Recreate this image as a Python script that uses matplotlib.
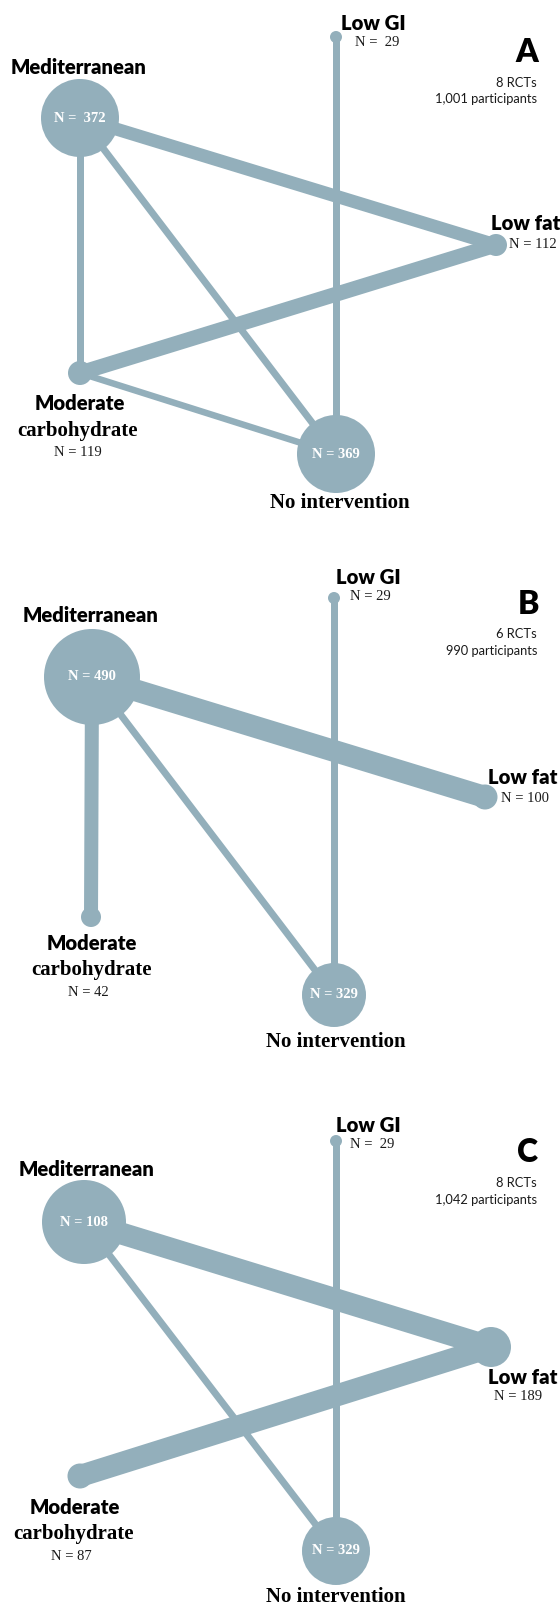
import matplotlib
matplotlib.use("Agg")
import matplotlib.pyplot as plt
from matplotlib.patches import Circle

# ---------------- data ----------------
panels = ["A", "B", "C"]
rcts = [8, 6, 8]
participants = ["1,001", "990", "1,042"]

nodes = ["Mediterranean", "Low GI", "Low fat", "Moderate carbohydrate", "No intervention"]

n_labels_A = ["N =  372", "N =  29", "N = 112", "N = 119", "N = 369"]
n_labels_B = ["N = 490", "N = 29", "N = 100", "N = 42", "N = 329"]
n_labels_C = ["N = 108", "N =  29", "N = 189", "N = 87", "N = 329"]

edges_A = [("Mediterranean", "Low fat"), ("Low fat", "Moderate carbohydrate"),
           ("Mediterranean", "Moderate carbohydrate"), ("Mediterranean", "No intervention"),
           ("Moderate carbohydrate", "No intervention"), ("Low GI", "No intervention")]
edges_B = [("Mediterranean", "Low fat"), ("Mediterranean", "Moderate carbohydrate"),
           ("Mediterranean", "No intervention"), ("Low GI", "No intervention")]
edges_C = [("Mediterranean", "Low fat"), ("Low fat", "Moderate carbohydrate"),
           ("Mediterranean", "No intervention"), ("Low GI", "No intervention")]

# ---------------- layout (pixel units, y downward) ----------------
W, H = 560, 1605
COLOR = "#93AFBB"

layout = {
    "A": dict(
        pos={"Mediterranean": (80, 118), "Low GI": (336, 37), "Low fat": (496, 245),
             "Moderate carbohydrate": (80, 373), "No intervention": (336, 454)},
        rad={"Mediterranean": 39, "Low GI": 6, "Low fat": 11,
             "Moderate carbohydrate": 12, "No intervention": 39},
        ew=[13, 15, 7, 7, 6.5, 7],
        letter=(527, 53), info_y=(83, 99),
        lab={"Mediterranean": (79, 67), "Low GI": (373, 24), "Low fat": (526, 223),
             "Moderate": (80, 404), "carbohydrate": (78, 431), "No intervention": (340, 503)},
        nlab={"Low GI": (377, 43), "Low fat": (533, 245), "Moderate carbohydrate": (78, 453)},
    ),
    "B": dict(
        pos={"Mediterranean": (92, 677), "Low GI": (334, 598), "Low fat": (485, 797),
             "Moderate carbohydrate": (91, 917), "No intervention": (334, 995)},
        rad={"Mediterranean": 48, "Low GI": 6, "Low fat": 12.5,
             "Moderate carbohydrate": 10, "No intervention": 32},
        ew=[22, 14, 7, 7],
        letter=(528, 604), info_y=(634, 651),
        lab={"Mediterranean": (91, 616), "Low GI": (368, 577), "Low fat": (523, 777),
             "Moderate": (92, 943), "carbohydrate": (91, 970), "No intervention": (336, 1042)},
        nlab={"Low GI": (370, 597), "Low fat": (525, 798), "Moderate carbohydrate": (88, 992)},
    ),
    "C": dict(
        pos={"Mediterranean": (84, 1222), "Low GI": (336, 1141), "Low fat": (491, 1347),
             "Moderate carbohydrate": (80, 1476), "No intervention": (336, 1551)},
        rad={"Mediterranean": 42, "Low GI": 6, "Low fat": 20,
             "Moderate carbohydrate": 12.5, "No intervention": 34},
        ew=[22, 22, 7, 7],
        letter=(528, 1153), info_y=(1183, 1200),
        lab={"Mediterranean": (87, 1169), "Low GI": (368, 1125), "Low fat": (523, 1377),
             "Moderate": (75, 1507), "carbohydrate": (73, 1534), "No intervention": (336, 1597)},
        nlab={"Low GI": (372, 1145), "Low fat": (518, 1397), "Moderate carbohydrate": (71, 1556)},
    ),
}

n_labels = {"A": n_labels_A, "B": n_labels_B, "C": n_labels_C}
edges = {"A": edges_A, "B": edges_B, "C": edges_C}

PX = 72 / 100.0  # points per pixel at dpi 100
SANS = "Lato"
SERIF = "Liberation Serif"

fig = plt.figure(figsize=(W / 100, H / 100), dpi=100)
ax = fig.add_axes([0, 0, 1, 1])
ax.set_xlim(0, W)
ax.set_ylim(H, 0)
ax.axis("off")

for i, p in enumerate(panels):
    L = layout[p]
    pos = L["pos"]
    # edges
    for (a, b), w in zip(edges[p], L["ew"]):
        xa, ya = pos[a]
        xb, yb = pos[b]
        ax.plot([xa, xb], [ya, yb], color=COLOR, lw=w * PX,
                solid_capstyle="butt", zorder=1)
    # nodes
    for j, nd in enumerate(nodes):
        x, y = pos[nd]
        ax.add_patch(Circle((x, y), L["rad"][nd], facecolor=COLOR,
                            edgecolor="none", zorder=2))
        if nd in ("Mediterranean", "No intervention"):
            ax.text(x, y, n_labels[p][j], color="white", fontsize=10.5,
                    fontweight="bold", family=SERIF, ha="center", va="center", zorder=3)
        else:
            lx, ly = L["nlab"][nd]
            ax.text(lx, ly, n_labels[p][j], color="#1a1a1a", fontsize=10.5,
                    family=SERIF, ha="center", va="center", zorder=3)
    # node names
    lab = L["lab"]
    for key in ("Mediterranean", "Low GI", "Low fat", "Moderate"):
        ax.text(*lab[key], key, fontsize=14.6, fontweight="heavy", family=SANS,
                ha="center", va="center", color="black", zorder=3)
    ax.text(*lab["carbohydrate"], "carbohydrate", fontsize=15, fontweight="bold",
            family=SERIF, ha="center", va="center", color="black", zorder=3)
    ax.text(*lab["No intervention"], "No intervention", fontsize=15, fontweight="bold",
            family=SERIF, ha="center", va="center", color="black", zorder=3)
    # panel letter and info
    ax.text(*L["letter"], p, fontsize=23, fontweight="heavy", family=SANS,
            ha="center", va="center", color="black")
    ax.text(537, L["info_y"][0], f"{rcts[i]} RCTs", fontsize=9.3, family=SANS,
            ha="right", va="center", color="#1a1a1a")
    ax.text(537, L["info_y"][1], f"{participants[i]} participants", fontsize=9.3,
            family=SANS, ha="right", va="center", color="#1a1a1a")

fig.savefig("out.png", dpi=100, facecolor="white")
